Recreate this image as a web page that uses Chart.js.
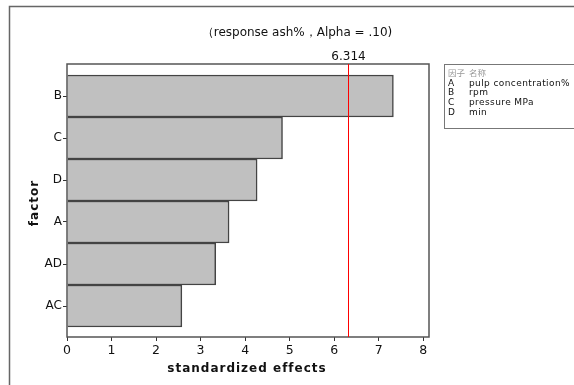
<!DOCTYPE html>
<html>
<head>
<meta charset="utf-8">
<script src="https://cdn.jsdelivr.net/npm/chart.js@4/dist/chart.umd.min.js"></script>
<style>
  html, body { margin: 0; padding: 0; background: #fff; }
  #wrap { width: 574px; height: 385px; }
</style>
</head>
<body>
<div id="wrap"><canvas id="paretoChart" width="574" height="385"></canvas></div>
<script>
// factors, top to bottom
const factors = ['B', 'C', 'D', 'A', 'AD', 'AC'];
const effects = [7.33, 4.84, 4.27, 3.64, 3.34, 2.58];
const xTicks = [0, 1, 2, 3, 4, 5, 6, 7, 8];
const critical = 6.314;
const legendCodes = ['A', 'B', 'C', 'D'];
const legendNames = ['pulp concentration%', 'rpm', 'pressure MPa', 'min'];

const FONT = '"DejaVu Sans", Verdana, sans-serif';

// frame, plot border, red reference line and the text around the plot
const decorations = {
    id: 'decorations',
    afterDraw(chart) {
        const ctx = chart.ctx;
        const area = chart.chartArea;
        const xs = chart.scales.x;
        ctx.save();

        // outer frame (open to the right and bottom)
        ctx.strokeStyle = '#666';
        ctx.lineWidth = 1.5;
        ctx.beginPath();
        ctx.moveTo(574, 6.5);
        ctx.lineTo(9.5, 6.5);
        ctx.lineTo(9.5, 385);
        ctx.stroke();

        // plot border
        ctx.strokeStyle = '#555';
        ctx.lineWidth = 1.5;
        ctx.strokeRect(area.left, area.top, area.right - area.left, area.bottom - area.top);

        // critical value line
        const cx = Math.round(xs.getPixelForValue(critical)) + 0.5;
        ctx.strokeStyle = '#ff0000';
        ctx.lineWidth = 1;
        ctx.beginPath();
        ctx.moveTo(cx, area.top);
        ctx.lineTo(cx, area.bottom);
        ctx.stroke();

        ctx.fillStyle = '#111';
        ctx.font = '12px ' + FONT;
        ctx.textAlign = 'center';
        ctx.textBaseline = 'middle';
        ctx.fillText(critical.toFixed(3), cx, 57);

        // title
        ctx.fillText('（response ash%，Alpha = .10)', 297, 33);

        // axis titles
        ctx.font = 'bold 12px ' + FONT;
        ctx.letterSpacing = '1px';
        ctx.fillText('standardized effects', 247, 369);
        ctx.save();
        ctx.translate(35, 203);
        ctx.rotate(-Math.PI / 2);
        ctx.fillText('factor', 0, 0);
        ctx.restore();
        ctx.letterSpacing = '0px';

        // factor legend box
        ctx.strokeStyle = '#777';
        ctx.lineWidth = 1;
        ctx.strokeRect(444.5, 64.5, 140, 64);
        ctx.textAlign = 'left';
        ctx.font = '8.5px "Noto Sans CJK SC", sans-serif';
        ctx.fillStyle = '#999';
        ctx.fillText('因子', 448, 73);
        ctx.fillText('名称', 469, 73);
        ctx.fillStyle = '#111';
        ctx.font = '9px ' + FONT;
        ctx.letterSpacing = '0.4px';
        legendCodes.forEach((code, i) => {
            const y = 83.5 + i * 9.6;
            ctx.fillText(code, 448, y);
            ctx.fillText(legendNames[i], 469, y);
        });
        ctx.letterSpacing = '0px';

        ctx.restore();
    }
};

const ctx = document.getElementById('paretoChart');
new Chart(ctx, {
    type: 'bar',
    data: {
        datasets: [{
            data: effects.map((v, i) => ({ x: v, y: i + 1 })),
            backgroundColor: '#c0c0c0',
            borderColor: '#444',
            borderWidth: 1.5,
            borderSkipped: 'start',
            barPercentage: 1,
            categoryPercentage: 1
        }]
    },
    options: {
        indexAxis: 'y',
        responsive: false,
        animation: false,
        layout: {
            padding: { left: 0, top: 64, right: 145, bottom: 0 }
        },
        plugins: {
            legend: { display: false },
            tooltip: { enabled: false }
        },
        scales: {
            x: {
                type: 'linear',
                min: 0,
                max: 8.13,
                afterBuildTicks: axis => { axis.ticks = xTicks.map(v => ({ value: v })); },
                afterFit: axis => { axis.height = 48; },
                grid: {
                    display: true,
                    drawOnChartArea: false,
                    tickLength: 4,
                    color: '#333'
                },
                border: { display: false },
                ticks: {
                    color: '#111',
                    padding: 2,
                    font: { family: FONT, size: 12.5 },
                    maxRotation: 0
                }
            },
            y: {
                type: 'linear',
                reverse: true,
                offset: false,
                min: 0.5 - 11 / 42,
                max: 6.5 + 10 / 42,
                afterBuildTicks: axis => { axis.ticks = factors.map((f, i) => ({ value: i + 1 })); },
                afterFit: axis => { axis.width = 67; },
                grid: {
                    display: true,
                    offset: false,
                    drawOnChartArea: false,
                    tickLength: 4,
                    color: '#333'
                },
                border: { display: false },
                ticks: {
                    color: '#111',
                    padding: 1,
                    font: { family: FONT, size: 12 },
                    callback: v => factors[v - 1] || ''
                }
            }
        }
    },
    plugins: [decorations]
});
</script>
</body>
</html>
